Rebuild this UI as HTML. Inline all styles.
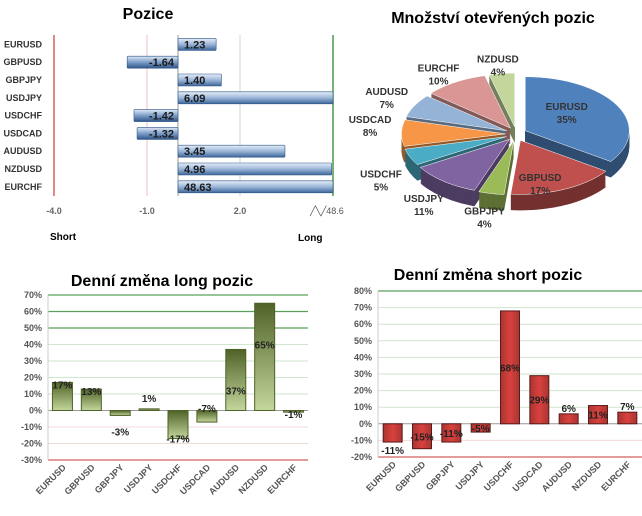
<!DOCTYPE html>
<html><head><meta charset="utf-8"><style>
body{margin:0;background:#fff;width:642px;height:516px;overflow:hidden;font-family:"Liberation Sans",Arial,sans-serif}
svg{display:block}
</style></head><body>
<svg id="s" width="642" height="516" xmlns="http://www.w3.org/2000/svg">
<defs>
<linearGradient id="gb" x1="0" y1="0" x2="0" y2="1"><stop offset="0" stop-color="#e6eef8"/><stop offset="0.5" stop-color="#9bb6d8"/><stop offset="1" stop-color="#3d6699"/></linearGradient>
<linearGradient id="gn" x1="0" y1="0" x2="0" y2="1"><stop offset="0" stop-color="#dfe9f5"/><stop offset="0.5" stop-color="#7c9dc8"/><stop offset="1" stop-color="#2f5588"/></linearGradient>
<linearGradient id="gg" x1="0" y1="0" x2="0" y2="1"><stop offset="0" stop-color="#4f6228"/><stop offset="1" stop-color="#c3d69b"/></linearGradient>
<linearGradient id="gr" x1="0" y1="0" x2="1" y2="0"><stop offset="0" stop-color="#a93532"/><stop offset="0.5" stop-color="#d9413e"/><stop offset="1" stop-color="#a93532"/></linearGradient>
</defs>
</svg>
<script>
const NS="http://www.w3.org/2000/svg";
const svg=document.getElementById('s');
function mk(tag,attrs,parent,text){const e=document.createElementNS(NS,tag);for(const k in attrs)e.setAttribute(k,attrs[k]);if(text!==undefined)e.textContent=text;(parent||svg).appendChild(e);return e;}

// ---------- Data ----------
const posCats=["EURUSD","GBPUSD","GBPJPY","USDJPY","USDCHF","USDCAD","AUDUSD","NZDUSD","EURCHF"];
const posVals=[1.23,-1.64,1.40,6.09,-1.42,-1.32,3.45,4.96,48.63];
const posTicks=["-4.0","-1.0","2.0"];
const posTickVals=[-4,-1,2];

const pieCats=["EURUSD","GBPUSD","GBPJPY","USDJPY","USDCHF","USDCAD","AUDUSD","EURCHF","NZDUSD"];
const pieVals=[35,17,4,11,5,8,7,10,4];
const pieColors=["#4f81bd","#c0504d","#9bbb59","#8064a2","#4bacc6","#f79646","#95b3d7","#d99694","#c3d69b"];

const chgCats=["EURUSD","GBPUSD","GBPJPY","USDJPY","USDCHF","USDCAD","AUDUSD","NZDUSD","EURCHF"];
const longVals=[17,13,-3,1,-17,-7,37,65,-1];
const longTicks=[70,60,50,40,30,20,10,0,-10,-20,-30];
const shortVals=[-11,-15,-11,-5,68,29,6,11,7];
const shortTicks=[80,70,60,50,40,30,20,10,0,-10,-20];

// ---------- Pozice ----------
let t=mk('text',{x:148,y:19,'font-size':16,'font-weight':'bold','text-anchor':'middle'},svg,"Pozice");

const pX=v=>178+Math.min(v,5)*31;
const pTop=35,pRow=17.8;
const gP=mk('g',{});
[[-4,'#d86060',1.5],[-1,'#f0c0c0',1],[2,'#c5e0c5',1],[5,'#4a9a4a',1.5]].forEach(([v,c,w])=>{
  const l=mk('line',{x1:pX(v),x2:pX(v),y1:pTop,y2:196,stroke:c,'stroke-width':w},gP);
  
});
mk('line',{x1:178,x2:178,y1:pTop,y2:196,stroke:'#999','stroke-width':1},gP);
posTicks.forEach((s,i)=>{const e=mk('text',{x:pX(posTickVals[i]),y:214,'font-size':9,'font-weight':'bold',fill:'#666','text-anchor':'middle'},gP,s);
 });
let e=mk('text',{x:310,y:214,'font-size':9,fill:'#555'},gP,"╱╲╱48.6");
e=mk('text',{x:50,y:240,'font-size':10,'font-weight':'bold'},gP,"Short");
e=mk('text',{x:298,y:241,'font-size':10,'font-weight':'bold'},gP,"Long");
posCats.forEach((c,i)=>{
  const cy=pTop+pRow*(i+0.5)+0.5, v=posVals[i];
  const lab=mk('text',{x:42,y:cy+3,'font-size':9,'font-weight':'bold',fill:'#333','text-anchor':'end'},gP,c);
  
  const x0=Math.min(pX(0),pX(v)),w=Math.abs(pX(v)-pX(0));
  const b=mk('rect',{x:x0,y:cy-6,width:w,height:12,fill:v<0?'url(#gn)':'url(#gb)',stroke:'#2f5588','stroke-width':0.6,rx:1},gP);
  
  const vl=mk('text',{x:v<0?pX(0)-4:pX(0)+6,y:cy+4,'font-size':11,'font-weight':'bold',fill:'#1a1a1a','text-anchor':v<0?'end':'start'},gP,v.toFixed(2));
  
});

// ---------- Pie ----------
e=mk('text',{x:493,y:23,'font-size':16,'font-weight':'bold','text-anchor':'middle'},svg,"Množství otevřených pozic");

const gPie=mk('g',{});
const cx=516,cy=134,rx=104,ry=54,depth=16,expl=7;
const tot=pieVals.reduce((a,b)=>a+b,0);
function shade(hex,f){const n=parseInt(hex.slice(1),16);const r=(n>>16)*f,g=((n>>8)&255)*f,b=(n&255)*f;return `rgb(${r|0},${g|0},${b|0})`;}
function wedge(a0,a1,ox,oy){let d=`M${ox},${oy}`;const N=30;for(let k=0;k<=N;k++){const a=a0+(a1-a0)*k/N;d+=` L${ox+rx*Math.sin(a)},${oy-ry*Math.cos(a)}`;}return d+'Z';}
let acc=0;const slices=[];
pieVals.forEach((v,i)=>{const a0=acc/tot*2*Math.PI;acc+=v;const a1=acc/tot*2*Math.PI;slices.push({i,a0,a1,m:(a0+a1)/2});});
slices.slice().sort((a,b)=>Math.cos(b.m)-Math.cos(a.m)).forEach(s=>{
  const ox=cx+expl*Math.sin(s.m)*1.5, oy=cy-expl*Math.cos(s.m);
  const g=mk('g',{},gPie);
  for(let d=depth;d>0;d-=1)mk('path',{d:wedge(s.a0,s.a1,ox,oy+d),fill:shade(pieColors[s.i],0.6)},g);
  mk('path',{d:wedge(s.a0,s.a1,ox,oy),fill:pieColors[s.i],stroke:'#fff','stroke-width':0.5},g);
});
slices.forEach(s=>{
  const inside=pieVals[s.i]>=15;
  const f=inside?0.55:1.15;
  let lx=cx+rx*f*Math.sin(s.m)*(inside?1:1.22), ly=cy-ry*f*Math.cos(s.m)+(Math.cos(s.m)<0?depth+4:-10);
  const tx=mk('text',{x:lx,y:ly,'font-size':10,'font-weight':'bold',fill:'#333','text-anchor':'middle'},gPie);
  
  mk('tspan',{x:lx,dy:0},tx,pieCats[s.i]);
  mk('tspan',{x:lx,dy:13},tx,pieVals[s.i]+'%');
});

// ---------- Bar charts ----------
function barChart(opt){
  const g=mk('g',{});
  const tt=mk('text',{x:opt.tx,y:opt.ty,'font-size':16,'font-weight':'bold','text-anchor':'middle'},g,opt.title);
  
  const max=opt.ticks[0],min=opt.ticks[opt.ticks.length-1];
  const y=v=>opt.top+(max-v)/(max-min)*(opt.bottom-opt.top);
  const bw=(opt.right-opt.left)/opt.cats.length;
  opt.ticks.forEach(v=>{
    let col=v>0?(v>=opt.strongPos?'#5aa05a':'#cfe6cf'):(v<0?(v<=opt.strongNeg?'#d06060':'#f3d8d8'):'#999');
    const l=mk('line',{x1:opt.left,x2:opt.right,y1:y(v),y2:y(v),stroke:col,'stroke-width':v<=opt.strongNeg||v>=opt.strongPos?1.2:1},g);
    
    const tl=mk('text',{x:opt.left-6,y:y(v)+3,'font-size':9,'font-weight':'bold',fill:'#555','text-anchor':'end'},g,v+'%');
    
  });
  mk('line',{x1:opt.left,x2:opt.left,y1:opt.top,y2:opt.bottom,stroke:'#ccc'},g);
  opt.cats.forEach((c,i)=>{
    const v=opt.vals[i],xc=opt.left+bw*(i+0.5);
    const b=mk('rect',{x:xc-opt.barW/2,y:Math.min(y(v),y(0)),width:opt.barW,height:Math.abs(y(v)-y(0)),fill:opt.fill,stroke:opt.stroke,'stroke-width':1},g);
    
    const vl=mk('text',{x:xc,y:opt.labY(v,y,i),'font-size':10,'font-weight':'bold',fill:'#222','text-anchor':'middle'},g,v+'%');
    
    const xl=mk('text',{x:xc+4,y:opt.bottom+8,'font-size':9,'font-weight':'bold',fill:'#555','text-anchor':'end',transform:`rotate(-45 ${xc+4} ${opt.bottom+8})`},g,c);
    
  });
}
barChart({name:'long-change-chart',title:'Denní změna long pozic',tx:162,ty:286,cats:chgCats,vals:longVals,ticks:longTicks,
  left:48,right:308,top:295,bottom:460,barW:20,fill:'url(#gg)',stroke:'#4f6228',strongPos:50,strongNeg:-30,
  labY:(v,y)=>v>=30?y(v)+45:(v>=10?y(v)+6:(v>=0?y(v)-7:(v<-10?y(v)+4:(v<-5?y(v)-10:(v<-2?y(v)+20:y(v)+6)))))});
barChart({name:'short-change-chart',title:'Denní změna short pozic',tx:488,ty:280,cats:chgCats,vals:shortVals,ticks:shortTicks,
  left:378,right:642,top:291,bottom:457,barW:19,fill:'url(#gr)',stroke:'#5a1a18',strongPos:80,strongNeg:-20,
  labY:(v,y,i)=>(i===0?y(v)+12:(v>0&&v<8?y(v)-2:(y(v)+y(0))/2+4))});
</script>
</body></html>
